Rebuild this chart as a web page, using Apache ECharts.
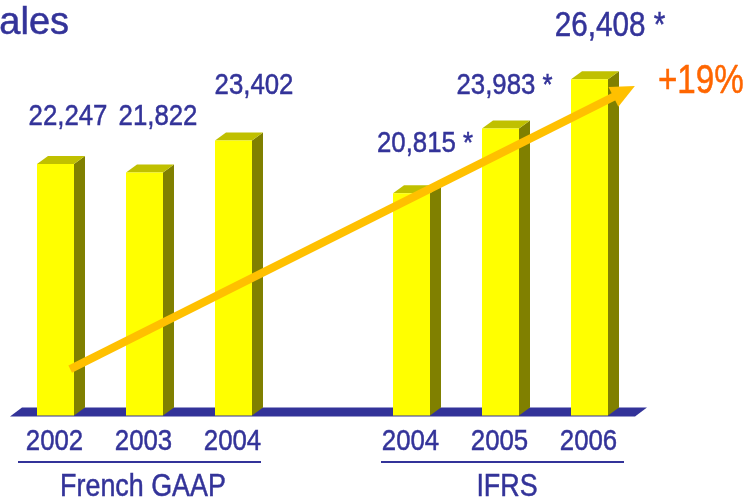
<!DOCTYPE html>
<html>
<head>
<meta charset="utf-8">
<script src="https://cdn.jsdelivr.net/npm/echarts@6/dist/echarts.min.js"></script>
<style>
  html, body { margin: 0; padding: 0; background: #ffffff; }
  #chart { width: 748px; height: 501px; }
</style>
</head>
<body>
<div id="chart"></div>
<script>
// Group sales per year, French GAAP (2002-2004) then IFRS (2004-2006)
const years = ['2002', '2003', '2004', '', '2004', '2005', '2006'];
const sales = [22247, 21822, 23402, null, 20815, 23983, 26408];
const footnoteMarks = ['', '', '', '', ' *', ' *', ' *'];
const standards = ['French GAAP', 'IFRS'];
const standardSpans = [[0, 2], [4, 6]];
const growthLabel = '+19%';
const titleText = 'Sales';

// value label placement relative to each bar's front top edge (px) and type size
const labelNudge = [[12.5, -47], [13.5, -56], [20.5, -55], null, [13.5, -49], [4, -43], [20.5, -53]];
const labelSize = [30, 30, 30, null, 30, 30, 34.5];

const FONT = '"Liberation Sans", Arial, sans-serif';
const NAVY = '#333399';
const FRONT = '#ffff00';
const SIDE = '#808000';
const TOP = '#c0c000';
const FLOOR = '#333399';
const ARROW = '#ffc000';
const ORANGE = '#ff6600';

const Y_MIN = 9900;
const Y_MAX = 30000;
const BAR_RATIO = 37 / 89;
const DEPTH_X = 11;
const DEPTH_Y = 8;

const fmt = v => v.toLocaleString('en-US');

// condensed lettering: regular face squeezed horizontally around its anchor
function narrowText(text, x, y, size, squeeze, fill, z) {
  return {
    type: 'text', x: x, y: y, scaleX: squeeze, z: z || 0,
    style: {
      text: text, fill: fill, stroke: fill, lineWidth: 0.5,
      font: size + 'px ' + FONT, align: 'center', verticalAlign: 'middle'
    }
  };
}

const barData = [];
sales.forEach((v, i) => { if (v != null) barData.push([i, v]); });

function renderBar(params, api) {
  const i = api.value(0);
  const v = api.value(1);
  const topPt = api.coord([i, v]);
  const basePt = api.coord([i, Y_MIN]);
  const w = api.size([1, 0])[0] * BAR_RATIO;
  const x0 = topPt[0] - w / 2;
  const x1 = topPt[0] + w / 2;
  const yt = topPt[1];
  const yb = basePt[1];
  const n = labelNudge[i];
  return {
    type: 'group',
    children: [
      { type: 'polygon', shape: { points: [[x1, yt], [x1 + DEPTH_X, yt - DEPTH_Y], [x1 + DEPTH_X, yb - DEPTH_Y], [x1, yb]] }, style: { fill: SIDE } },
      { type: 'polygon', shape: { points: [[x0, yt], [x0 + DEPTH_X, yt - DEPTH_Y], [x1 + DEPTH_X, yt - DEPTH_Y], [x1, yt]] }, style: { fill: TOP } },
      { type: 'rect', shape: { x: x0, y: yt, width: w, height: yb - yt }, style: { fill: FRONT } },
      narrowText(fmt(v) + footnoteMarks[i], topPt[0] + n[0], yt + n[1], labelSize[i], 0.86, NAVY),
      // year under the bar
      narrowText(years[i], topPt[0] - 1, yb + 26.5, 30, 0.86, NAVY)
    ]
  };
}

function renderFloor(params, api) {
  const cs = params.coordSys;
  const yb = api.coord([0, Y_MIN])[1];
  const l = cs.x - 1;
  const r = cs.x + cs.width + 1;
  return {
    type: 'polygon',
    shape: { points: [[l, yb + 1], [r, yb + 1], [r + 12, yb - 8], [l + 12, yb - 8]] },
    style: { fill: FLOOR }
  };
}

const chart = echarts.init(document.getElementById('chart'), null, { renderer: 'canvas' });

chart.setOption({
  animation: false,
  backgroundColor: '#ffffff',
  title: {
    text: titleText,
    left: -26,
    top: 5,
    padding: 0,
    textStyle: {
      color: NAVY, fontFamily: FONT, fontSize: 38, fontWeight: 'normal', lineHeight: 38,
      textBorderColor: NAVY, textBorderWidth: 0.5
    }
  },
  grid: { left: 11, width: 623, top: 6, height: 409.5 },
  xAxis: {
    type: 'category',
    data: years,
    boundaryGap: true,
    axisLine: { show: false },
    axisTick: { show: false },
    splitLine: { show: false },
    axisLabel: { show: false }
  },
  yAxis: { type: 'value', min: Y_MIN, max: Y_MAX, show: false },
  series: [
    { type: 'custom', name: 'floor', z: 1, data: [[0, Y_MIN]], renderItem: renderFloor, silent: true },
    { type: 'custom', name: 'Sales', z: 2, data: barData, renderItem: renderBar, encode: { x: 0, y: 1 }, clip: false }
  ]
});

// annotations anchored to the axes: standard underlines + names, growth arrow
function px(i) { return chart.convertToPixel({ xAxisIndex: 0 }, i); }
function py(v) { return chart.convertToPixel({ yAxisIndex: 0 }, v); }

const band = px(1) - px(0);
const underlinePad = [[-37.5, 27.5], [-30.5, 34.5]];
const nameShift = [3.5, 4.5];
const graphics = [];
standardSpans.forEach((span, k) => {
  const xa = px(span[0]) + underlinePad[k][0];
  const xb = px(span[1]) + underlinePad[k][1];
  graphics.push({
    type: 'line', z: 10,
    shape: { x1: xa, y1: 462, x2: xb, y2: 462 },
    style: { stroke: NAVY, lineWidth: 2 }
  });
  graphics.push(narrowText(standards[k], (xa + xb) / 2 + nameShift[k], 487, 32, 0.84, NAVY, 10));
});

// trend arrow from the 2002 bar up past the 2006 bar
const start = [px(0) + 0.165 * band, py(12180)];
const tip = [px(6) + 0.51 * band, py(26070)];
const ddx = tip[0] - start[0], ddy = tip[1] - start[1];
const len = Math.hypot(ddx, ddy);
const ux = ddx / len, uy = ddy / len;
const headLen = 24, headHalf = 11;
const bx = tip[0] - headLen * ux, by = tip[1] - headLen * uy;
graphics.push({
  type: 'line', z: 20,
  shape: { x1: start[0], y1: start[1], x2: bx + ux, y2: by + uy },
  style: { stroke: ARROW, lineWidth: 8, lineCap: 'butt' }
});
graphics.push({
  type: 'polygon', z: 20,
  shape: { points: [tip, [bx - headHalf * uy, by + headHalf * ux], [bx + headHalf * uy, by - headHalf * ux]] },
  style: { fill: ARROW }
});
graphics.push(narrowText(growthLabel, tip[0] + 66, 82, 41, 0.81, ORANGE, 20));

chart.setOption({ graphic: graphics });
</script>
</body>
</html>
